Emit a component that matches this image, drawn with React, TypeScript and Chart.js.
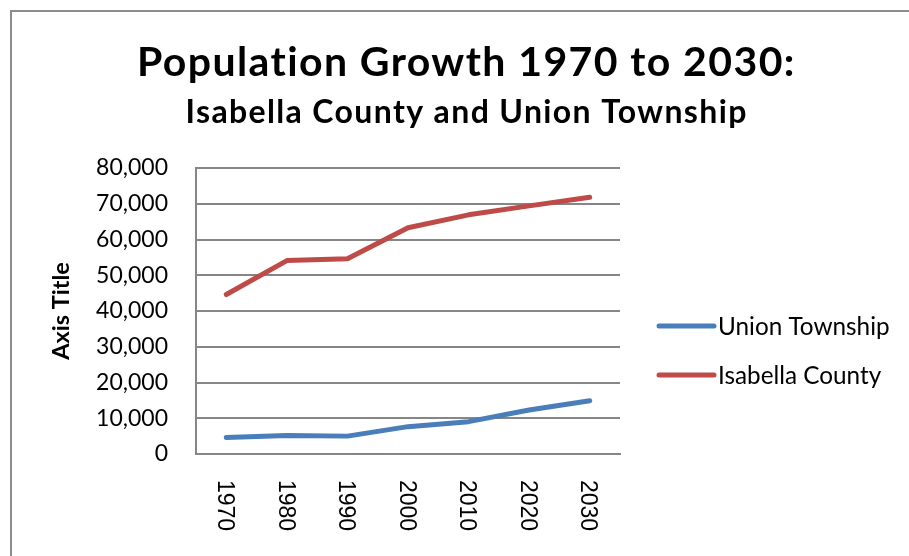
import React, { useEffect, useRef } from "react";
import { Chart, registerables } from "chart.js";

Chart.register(...registerables);

const years = ["1970", "1980", "1990", "2000", "2010", "2020", "2030"];
const unionTownship = [4600, 5200, 5000, 7650, 9050, 12300, 14900];
const isabellaCounty = [44600, 54100, 54600, 63300, 66900, 69400, 71800];
const seriesNames = ["Union Township", "Isabella County"];
const seriesColors = ["#4a7ebb", "#be4b48"];
const yMin = 0;
const yMax = 80000;
const yStep = 10000;
const titleText = "Population Growth 1970 to 2030:";
const subtitleText = "Isabella County and Union Township";
const yAxisTitle = "Axis Title";

const W = 909;
const H = 556;

function fitText(ctx: any, text: string, cx: number, y: number, target: number) {
  ctx.letterSpacing = "0px";
  const w = ctx.measureText(text).width;
  const n = text.length;
  const sp = n > 1 ? (target - w) / (n - 1) : 0;
  ctx.letterSpacing = sp.toFixed(2) + "px";
  ctx.textAlign = "left";
  ctx.fillText(text, cx - target / 2, y);
  ctx.letterSpacing = "0px";
}

const decorPlugin = {
  id: "decor",
  beforeDraw(chart: any) {
    const ctx = chart.ctx;
    ctx.save();
    ctx.fillStyle = "#ffffff";
    ctx.fillRect(0, 0, chart.width, chart.height);
    ctx.strokeStyle = "#8c8c8c";
    ctx.lineWidth = 2;
    ctx.beginPath();
    ctx.moveTo(11, chart.height);
    ctx.lineTo(11, 11);
    ctx.lineTo(chart.width, 11);
    ctx.stroke();
    ctx.restore();
  },
  afterDraw(chart: any) {
    const ctx = chart.ctx;
    ctx.save();
    // titles
    ctx.fillStyle = "#000000";
    ctx.textBaseline = "alphabetic";
    ctx.font = 'bold 41px "Lato"';
    fitText(ctx, titleText, 466, 76, 658);
    ctx.font = 'bold 32px "Lato"';
    fitText(ctx, subtitleText, 466, 123, 561);

    // x tick labels rotated clockwise
    const xs = chart.scales.x;
    ctx.font = '23px "Liberation Sans"';
    ctx.textAlign = "left";
    ctx.textBaseline = "middle";
    (chart.data.labels as string[]).forEach((lab, i) => {
      const x = xs.getPixelForTick(i);
      ctx.save();
      ctx.translate(x - 2, 480);
      ctx.rotate(Math.PI / 2);
      ctx.fillText(lab, 0, 0);
      ctx.restore();
    });

    // legend
    chart.data.datasets.forEach((ds: any, i: number) => {
      const y = 326 + i * 49;
      ctx.strokeStyle = ds.borderColor;
      ctx.lineWidth = 5;
      ctx.lineCap = "round";
      ctx.beginPath();
      ctx.moveTo(659, y);
      ctx.lineTo(714, y);
      ctx.stroke();
      ctx.fillStyle = "#000000";
      ctx.font = '24.3px "Lato"';
      ctx.textAlign = "left";
      ctx.textBaseline = "alphabetic";
      ctx.fillText(ds.label, 718, y + 8.5);
    });
    ctx.restore();
  },
};

export default function App() {
  const ref = useRef<HTMLCanvasElement | null>(null);

  useEffect(() => {
    if (!ref.current) return;
    const chart = new Chart(ref.current, {
      type: "line",
      data: {
        labels: years,
        datasets: [
          {
            label: seriesNames[0],
            data: unionTownship,
            borderColor: seriesColors[0],
            backgroundColor: seriesColors[0],
          },
          {
            label: seriesNames[1],
            data: isabellaCounty,
            borderColor: seriesColors[1],
            backgroundColor: seriesColors[1],
          },
        ],
      },
      options: {
        animation: false,
        responsive: false,
        maintainAspectRatio: false,
        devicePixelRatio: 1,
        layout: { padding: { top: 168, right: 289, left: 0, bottom: 0 } },
        plugins: {
          legend: { display: false },
          title: { display: false },
          tooltip: { enabled: false },
        },
        elements: {
          point: { radius: 0 },
          line: {
            borderWidth: 5,
            tension: 0,
            borderCapStyle: "round",
            borderJoinStyle: "round",
          },
        },
        scales: {
          x: {
            offset: true,
            grid: { display: false, drawTicks: false },
            border: { display: true, color: "#868686", width: 2 },
            ticks: { display: false },
            afterFit: (s: any) => {
              s.height = 102;
            },
          },
          y: {
            min: yMin,
            max: yMax,
            ticks: {
              stepSize: yStep,
              padding: 28,
              color: "#000000",
              font: { family: "Lato", size: 23 },
              callback: (v: any) => Number(v).toLocaleString("en-US"),
            },
            grid: { color: "#868686", lineWidth: 2, drawTicks: false },
            border: { color: "#868686", width: 2 },
            title: {
              display: true,
              text: yAxisTitle,
              color: "#000000",
              font: { family: "Lato", size: 23.5, weight: "bold" },
              padding: { top: 47, bottom: 0 },
            },
            afterFit: (s: any) => {
              s.width = 196;
            },
          },
        },
      },
      plugins: [decorPlugin],
    } as any);
    return () => chart.destroy();
  }, []);

  return (
    <div style={{ position: "fixed", left: 0, top: 0, width: W, height: H }}>
      <canvas ref={ref} width={W} height={H} style={{ display: "block", width: W, height: H }} />
    </div>
  );
}
